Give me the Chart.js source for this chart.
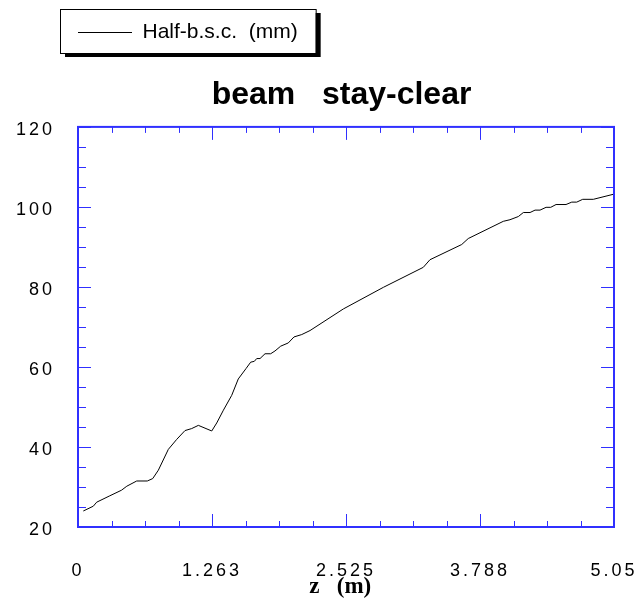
<!DOCTYPE html>
<html>
<head>
<meta charset="utf-8">
<script src="https://cdn.jsdelivr.net/npm/chart.js@4/dist/chart.umd.min.js"></script>
<style>
  html, body { margin: 0; padding: 0; background: #fff; }
  canvas { display: block; }
</style>
</head>
<body>
<canvas id="stay-clear" width="640" height="603"></canvas>
<script>
const BLEU_AXE = '#3030ff';
const POLICE = "'Liberation Sans', Arial, Helvetica, sans-serif";

// position z (m) et demi-ouverture beam stay-clear (mm)
const positionsZ = [
  0.05, 0.144, 0.176, 0.30, 0.41, 0.46, 0.553, 0.653, 0.704, 0.757,
  0.851, 0.93, 1.008, 1.071, 1.134, 1.26, 1.307, 1.37, 1.448, 1.51,
  1.583, 1.627, 1.661, 1.684, 1.715, 1.762, 1.815, 1.856, 1.91, 1.981,
  2.035, 2.108, 2.186, 2.5, 2.877, 3.253, 3.316, 3.615, 3.677, 4.007,
  4.07, 4.149, 4.196, 4.259, 4.306, 4.353, 4.41, 4.454, 4.504, 4.598,
  4.652, 4.699, 4.755, 4.855, 5.05,
];
const demiBsc = [
  24.0, 25.2, 26.2, 27.8, 29.2, 30.2, 31.5, 31.5, 32.1, 34.2,
  39.4, 41.9, 44.1, 44.6, 45.4, 44.0, 46.0, 49.2, 52.9, 57.0,
  59.6, 61.2, 61.4, 62.1, 62.1, 63.3, 63.3, 64.0, 65.2, 66.0,
  67.5, 68.1, 69.1, 74.5, 79.9, 84.9, 86.8, 90.6, 92.1, 96.4,
  96.8, 97.6, 98.6, 98.6, 99.2, 99.2, 99.9, 99.9, 100.6, 100.6,
  101.2, 101.2, 101.9, 101.9, 103.2,
];

const graduationsZ = ['0', '1.263', '2.525', '3.788', '5.05'];
const graduationsY = [20, 40, 60, 80, 100, 120];

// 4 intervalles entre deux graduations principales sur z, pas de 5 sur y
const ticksZ = () => {
  const valeurs = graduationsZ.map(Number);
  const ticks = [];
  valeurs.forEach((v, i) => {
    ticks.push({ value: v });
    if (i < valeurs.length - 1) {
      const pas = (valeurs[i + 1] - v) / 4;
      for (let k = 1; k < 4; k += 1) ticks.push({ value: v + k * pas });
    }
  });
  return ticks;
};

const ticksY = () => {
  const ticks = [];
  for (let v = graduationsY[0]; v <= graduationsY[graduationsY.length - 1]; v += 5) {
    ticks.push({ value: v });
  }
  return ticks;
};

const cadreEtGraduations = {
  id: 'cadreEtGraduations',
  beforeDraw(chart) {
    const { ctx } = chart;
    ctx.letterSpacing = '0px';
    // cadre ombré de la légende
    const boite = chart.legend.legendHitBoxes[0];
    if (!boite) return;
    const x0 = boite.left - 18;
    const y0 = boite.top - 13;
    const l = boite.width + 36;
    const h = boite.height + 23;
    ctx.save();
    ctx.fillStyle = '#000';
    ctx.fillRect(x0 + 5, y0 + 4, l, h);
    ctx.fillStyle = '#fff';
    ctx.fillRect(x0, y0, l, h);
    ctx.strokeStyle = '#000';
    ctx.lineWidth = 1;
    ctx.strokeRect(x0 + 0.5, y0 + 0.5, l, h);
    ctx.restore();
  },
  afterDatasetsDraw(chart) {
    const { ctx, chartArea: { left, right, top, bottom }, scales: { x, y } } = chart;
    ctx.save();
    ctx.strokeStyle = BLEU_AXE;
    ctx.lineWidth = 1;
    ctx.beginPath();
    x.ticks.forEach((tick, i) => {
      const px = Math.round(x.getPixelForValue(tick.value)) + 0.5;
      const longueur = i % 4 === 0 ? 13 : 6;
      ctx.moveTo(px, bottom);
      ctx.lineTo(px, bottom - longueur);
      ctx.moveTo(px, top);
      ctx.lineTo(px, top + longueur);
    });
    y.ticks.forEach((tick) => {
      const py = Math.round(y.getPixelForValue(tick.value)) + 0.5;
      const longueur = graduationsY.includes(tick.value) ? 13 : 8;
      ctx.moveTo(left, py);
      ctx.lineTo(left + longueur, py);
      ctx.moveTo(right, py);
      ctx.lineTo(right - longueur, py);
    });
    ctx.stroke();
    ctx.lineWidth = 2;
    ctx.strokeRect(left, top, right - left, bottom - top);
    ctx.restore();
    // les étiquettes des graduations sont dessinées ensuite, espacées
    ctx.letterSpacing = '3px';
  },
  afterDraw(chart) {
    chart.ctx.letterSpacing = '0px';
  },
};

Chart.defaults.color = '#000';
Chart.defaults.font.family = POLICE;

/* eslint-disable no-new */
new Chart(document.getElementById('stay-clear'), {
  type: 'line',
  plugins: [cadreEtGraduations],
  data: {
    datasets: [{
      label: 'Half-b.s.c.  (mm)',
      data: positionsZ.map((z, i) => ({ x: z, y: demiBsc[i] })),
      borderColor: '#000',
      backgroundColor: '#000',
      borderWidth: 1,
      pointRadius: 0,
      tension: 0,
      fill: false,
    }],
  },
  options: {
    responsive: false,
    animation: false,
    events: [],
    layout: { padding: { left: 0, right: 26, top: 22, bottom: 0 } },
    plugins: {
      tooltip: { enabled: false },
      legend: {
        weight: 3000,
        fullSize: false,
        align: 'start',
        labels: {
          usePointStyle: true,
          pointStyle: 'line',
          pointStyleWidth: 54,
          padding: 0,
          color: '#000',
          font: { size: 21, family: POLICE },
        },
      },
      title: {
        display: true,
        fullSize: false,
        text: 'beam   stay-clear ',
        color: '#000',
        font: { size: 32, weight: 'bold', family: POLICE },
        padding: { top: 23, bottom: 12.5 },
      },
    },
    scales: {
      x: {
        type: 'linear',
        min: 0,
        max: 5.05,
        afterBuildTicks: (axe) => { axe.ticks = ticksZ(); },
        afterFit: (axe) => { axe.height = 76; },
        grid: { display: false, drawTicks: true, tickLength: 33 },
        border: { display: false },
        ticks: {
          z: 1,
          autoSkip: false,
          maxRotation: 0,
          minRotation: 0,
          padding: 0,
          color: '#000',
          font: { size: 18, family: POLICE },
          callback: (valeur, index) => (index % 4 === 0 ? graduationsZ[index / 4] : ''),
        },
        title: {
          display: true,
          text: 'z   (m)  ',
          color: '#000',
          font: { size: 23, weight: 'bold', family: "'Liberation Serif', 'Times New Roman', serif" },
          padding: { top: 0, bottom: 2 },
        },
      },
      y: {
        type: 'linear',
        min: 20,
        max: 120,
        afterBuildTicks: (axe) => { axe.ticks = ticksY(); },
        afterFit: (axe) => { axe.width = 78; },
        grid: { display: false, drawTicks: true, tickLength: 23 },
        border: { display: false },
        ticks: {
          z: 1,
          autoSkip: false,
          padding: 0,
          labelOffset: 3,
          color: '#000',
          font: { size: 18, family: POLICE },
          callback: (valeur) => (graduationsY.includes(valeur) ? String(valeur) : ''),
        },
      },
    },
  },
});
/* eslint-enable no-new */
</script>
</body>
</html>
